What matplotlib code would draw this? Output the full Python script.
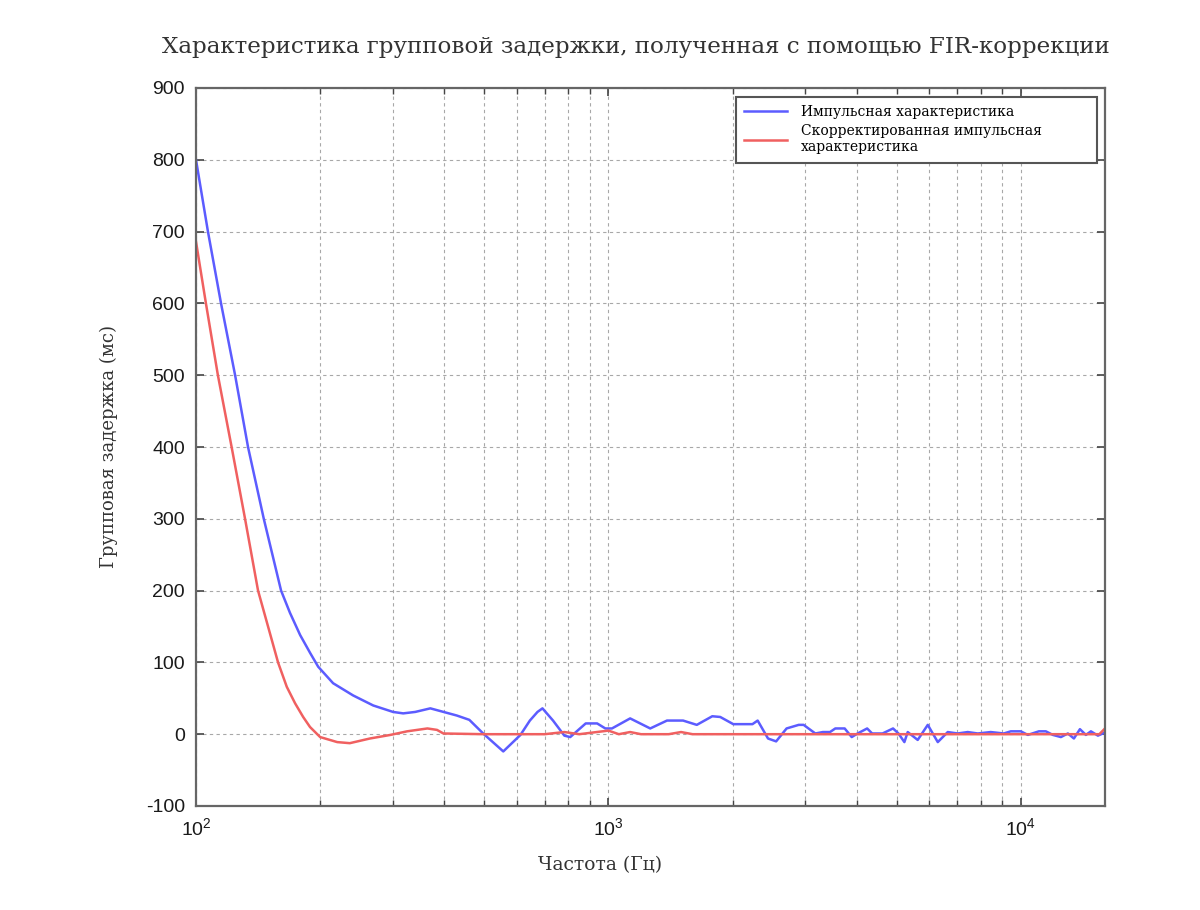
import matplotlib
matplotlib.use("Agg")
import matplotlib.pyplot as plt
from matplotlib.ticker import LogLocator, MultipleLocator, NullFormatter

plt.rcParams["axes.unicode_minus"] = False

title = "Характеристика групповой задержки, полученная с помощью FIR-коррекции"
xlabel = "Частота (Гц)"
ylabel = "Групповая задержка (мс)"
label_blue = "Импульсная характеристика"
label_red = "Скорректированная импульсная\nхарактеристика"

blue_f = [100, 106.9, 115, 124.4, 133.7, 146, 160.8, 169, 178.9, 189.2, 197.8, 215,
          240.4, 269, 300.5, 318, 340, 370, 429, 460, 497, 556, 612, 645, 673, 692, 734,
          782, 808, 881, 939, 983, 1020, 1129, 1263, 1387, 1517, 1638, 1786, 1867,
          2008, 2235, 2301, 2438, 2551, 2704, 2894, 2974, 3175, 3311, 3446, 3550,
          3740, 3890, 4020, 4240, 4360, 4620, 4900, 5050, 5220, 5318, 5623, 5948,
          6290, 6650, 7030, 7435, 7863, 8453, 9093, 9456, 10000, 10400, 11060,
          11500, 11960, 12510, 13005, 13450, 13910, 14380, 14790, 15380, 15810, 16000]
blue_v = [800, 700, 600, 500, 400, 300, 200, 169, 138, 113, 94, 71,
          54, 40, 31, 29, 31, 36, 26, 20, 1, -24, -1, 19, 31, 36, 19,
          -2, -4, 15, 15, 8, 8, 22, 8, 19, 19, 13, 25, 24,
          14, 14, 19, -6, -10, 8, 13, 13, 1, 3, 3, 8,
          8, -4, 1, 8, 1, 1, 8, 1, -11, 3, -8, 13,
          -11, 3, 1, 3, 1, 3, 1, 4, 4, -1, 4,
          4, -1, -4, 1, -6, 7, -1, 4, -2, 1, 3]

red_f = [100, 105.7, 113, 122, 131.5, 141.4, 152.9, 158.1, 166, 173.9,
         181.9, 189, 200, 220, 236, 264, 296, 325, 364, 384, 398, 500, 700, 782,
         850, 1000, 1060, 1129, 1200, 1400, 1500, 1600, 2000, 5000, 10000, 15500, 16000]
red_v = [686, 600, 500, 400, 300, 200, 130, 100, 66, 43,
         24, 10, -4, -11, -12.5, -6, -1, 4, 8, 6, 1, 0, 0, 3,
         0, 5, 0, 3, 0, 0, 3, 0, 0, 0, 0, 0, 8]

xlim = (100, 16000)
ylim = (-100, 900)

serif = ["DejaVu Serif"]
sans = ["Liberation Sans", "DejaVu Sans"]

fig = plt.figure(figsize=(12, 9.1), dpi=100)
ax = fig.add_axes([196/1200, 1-806/910, 909/1200, 718/910])

ax.plot(blue_f, blue_v, color="#5c5cff", lw=1.8, label=label_blue)
ax.plot(red_f, red_v, color="#f06060", lw=1.8, label=label_red)

ax.set_xscale("log")
ax.set_xlim(*xlim)
ax.set_ylim(*ylim)
ax.yaxis.set_major_locator(MultipleLocator(100))
ax.xaxis.set_major_locator(LogLocator(base=10))
ax.xaxis.set_minor_locator(LogLocator(base=10, subs=range(2, 10)))
ax.xaxis.set_minor_formatter(NullFormatter())

ax.grid(True, which="both", axis="x", color="#a8a8a8", linestyle=(0, (3, 3)), lw=0.8)
ax.grid(True, which="major", axis="y", color="#a8a8a8", linestyle=(0, (3, 3)), lw=0.8)

for s in ax.spines.values():
    s.set_color("#666666")
    s.set_linewidth(1.6)

ax.tick_params(which="both", direction="in", color="#444444", top=True, right=True)
ax.tick_params(which="major", length=6, width=1.2, pad=8)
ax.tick_params(which="minor", length=4, width=1.0)
for lab in ax.get_yticklabels() + ax.get_xticklabels():
    lab.set_family(sans)
    lab.set_fontsize(14)
    lab.set_color("#1a1a1a")

ax.set_xlabel(xlabel, family=serif, fontsize=13.5, color="#333333")
ax.xaxis.set_label_coords((600-196)/909, (806-856)/718)
ax.set_ylabel(ylabel, family=serif, fontsize=13, color="#333333")
ax.yaxis.set_label_coords((118-196)/909, 0.5)

fig.text(636/1200, 1-47/910, title, family=serif, fontsize=16.6, color="#333333",
         ha="center", va="center")

x0 = (736-196)/909
w = (1097-736)/909
ytop = (806-97)/718
leg = ax.legend(loc="upper left", bbox_to_anchor=(x0, ytop-0.2, w, 0.2), mode="expand",
                borderaxespad=0, borderpad=0.6, fancybox=False, edgecolor="#555555",
                prop={"family": serif, "size": 10}, handlelength=3.1,
                handletextpad=1.0, labelspacing=0.35, framealpha=1)
leg.get_frame().set_linewidth(1.5)

fig.savefig("out.png", dpi=100, facecolor="white")
